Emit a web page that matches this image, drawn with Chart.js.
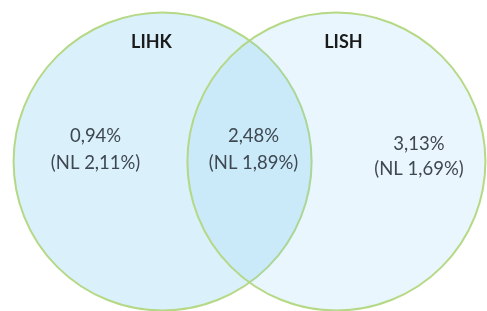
<!DOCTYPE html>
<html>
<head>
<meta charset="utf-8">
<script src="https://cdn.jsdelivr.net/npm/chart.js@4.4.1/dist/chart.umd.min.js"></script>
<style>
  html, body { margin: 0; padding: 0; background: #fff; }
  #wrap { width: 487px; height: 311px; position: relative; }
</style>
</head>
<body>
<div id="wrap"><canvas id="VennChart"></canvas></div>
<script>
// sets of the diagram (centre in chart units, radius in same units)
const setNames = ['LIHK', 'LISH'];
const setX = [-0.494, 0.494];
const setY = [0, 0];
const setRadius = [0.847, 0.847];
const setFill = ['rgba(120, 200, 240, 0.27)', 'rgba(120, 200, 240, 0.163)'];

// set titles
const titleX = [-0.557, 0.534];
const titleY = [0.676, 0.676];

// region values: left only, overlap, right only
const regionValues = ['0,94%', '2,48%', '3,13%'];
const regionNL = ['(NL 2,11%)', '(NL 1,89%)', '(NL 1,69%)'];
const regionX = [-0.875, 0.023, 0.963];
const regionY = [0.142, 0.142, 0.097];
const regionGap = [0.148, 0.148, 0.142];

// draw titles + values on top of the circles
const labelPlugin = {
    id: 'vennLabels',
    afterDatasetsDraw(chart) {
        const ctx = chart.ctx;
        const xs = chart.scales.x;
        const ys = chart.scales.y;
        ctx.save();
        ctx.textAlign = 'center';
        ctx.textBaseline = 'middle';

        ctx.fillStyle = '#1b1b1b';
        ctx.font = 'bold 18px Lato';
        setNames.forEach((name, i) => {
            ctx.fillText(name, xs.getPixelForValue(titleX[i]), ys.getPixelForValue(titleY[i]));
        });

        ctx.fillStyle = '#3f4850';
        ctx.font = '18.5px Lato';
        regionValues.forEach((val, i) => {
            const px = xs.getPixelForValue(regionX[i]);
            ctx.fillText(val, px, ys.getPixelForValue(regionY[i]));
            ctx.fillText(regionNL[i], px, ys.getPixelForValue(regionY[i] - regionGap[i]));
        });
        ctx.restore();
    }
};

function radiusPx(context) {
    const s = context.chart.scales.x;
    return s.getPixelForValue(setRadius[context.dataIndex]) - s.getPixelForValue(0);
}

const ctx = document.getElementById('VennChart').getContext('2d');
const VennChart = new Chart(ctx, {
    type: 'scatter',
    data: {
        labels: setNames,
        datasets: [{
            data: setX.map((x, i) => ({ x: x, y: setY[i] })),
            backgroundColor: setFill,
            borderColor: 'rgba(178, 215, 128, 0.95)',
            borderWidth: 2,
            pointRadius: radiusPx,
            pointHoverRadius: radiusPx,
            clip: false,
        }],
    },
    options: {
        responsive: true,
        maintainAspectRatio: false,
        animation: false,
        events: [],
        layout: { padding: { left: 12, top: 12, right: 0, bottom: 0 } },
        scales: {
            x: { display: false, min: -1.35, max: 1.35 },
            y: { display: false, min: -0.85, max: 0.85 },
        },
        plugins: {
            legend: { display: false },
            tooltip: { enabled: false },
        },
    },
    plugins: [labelPlugin],
});
</script>
</body>
</html>
